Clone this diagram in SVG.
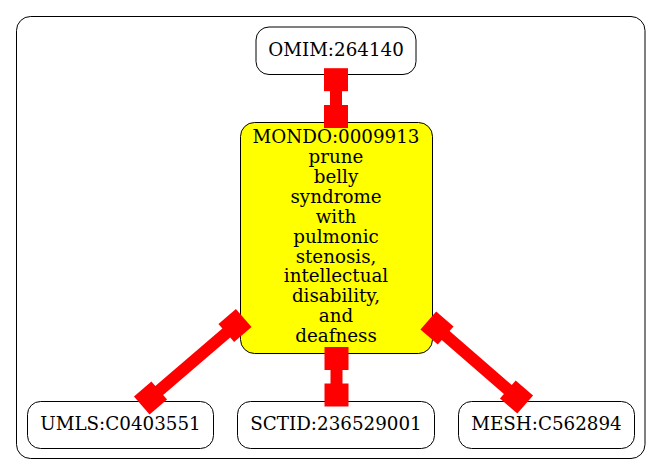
<svg xmlns="http://www.w3.org/2000/svg" width="661" height="476" viewBox="0 0 661 476">
<style>
.node rect{fill:#fff;stroke:#000;stroke-width:1}
.node.main rect{fill:#ffff00}
text{font-family:"DejaVu Serif","Liberation Serif",serif;font-size:18.3px;fill:#000;text-anchor:middle}
.edge{stroke:#ff0000;stroke-width:12;fill:none;marker-start:url(#box);marker-end:url(#box)}
</style>
<defs>
<marker id="box" markerUnits="userSpaceOnUse" markerWidth="26" markerHeight="26" refX="13" refY="13" orient="auto">
<rect x="1.5" y="1" width="23" height="24" fill="#ff0000"/>
</marker>
</defs>
<rect x="16.5" y="16.5" width="628.5" height="442" rx="14" ry="14" fill="#fff" stroke="#000" stroke-width="1"/>
<g id="n_omim" class="node">
<rect x="256" y="27" width="160" height="47.5" rx="13" ry="13"/>
<text x="336" y="56">OMIM:264140</text>
</g>
<g id="n_mondo" class="node main">
<rect x="240.5" y="122.5" width="192" height="231" rx="14" ry="14"/>
<text x="336" y="142.7">MONDO:0009913</text>
<text x="336" y="162.7">prune</text>
<text x="336" y="182.6">belly</text>
<text x="336" y="202.6">syndrome</text>
<text x="336" y="222.5">with</text>
<text x="336" y="242.5">pulmonic</text>
<text x="336" y="262.5">stenosis,</text>
<text x="336" y="282.4">intellectual</text>
<text x="336" y="302.4">disability,</text>
<text x="336" y="322.3">and</text>
<text x="336" y="342.3">deafness</text>
</g>
<g id="n_umls" class="node">
<rect x="27.5" y="401.5" width="186" height="47" rx="13" ry="13"/>
<text x="120.5" y="430">UMLS:C0403551</text>
</g>
<g id="n_sctid" class="node">
<rect x="237.5" y="401.5" width="197" height="47" rx="13" ry="13"/>
<text x="336" y="430">SCTID:236529001</text>
</g>
<g id="n_mesh" class="node">
<rect x="458.5" y="401.5" width="176" height="47" rx="13" ry="13"/>
<text x="546.5" y="430">MESH:C562894</text>
</g>
<g id="edges">
<line class="edge" x1="336" y1="79.7" x2="336" y2="116.5"/>
<line class="edge" x1="336.5" y1="358.5" x2="336.5" y2="395"/>
<line class="edge" x1="235" y1="325.5" x2="150.5" y2="398"/>
<line class="edge" x1="437" y1="328" x2="516.5" y2="397"/>
</g>
</svg>
